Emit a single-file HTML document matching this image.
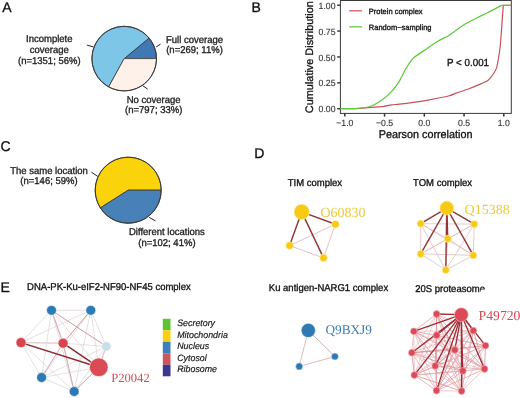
<!DOCTYPE html>
<html><head><meta charset="utf-8"><style>
html,body{margin:0;padding:0;background:#fff;width:520px;height:398px;overflow:hidden}
svg{display:block;filter:blur(0.35px)} text{text-rendering:geometricPrecision}
</style></head><body>
<svg width="520" height="398" viewBox="0 0 520 398">
<rect width="520" height="398" fill="#fff"/>
<text transform="translate(2.3,11.9) scale(1,1.0)" x="0" y="0" font-size="14" text-anchor="start" fill="#111" stroke="#111" stroke-width="0.32" font-family='"Liberation Sans", sans-serif' >A</text>
<text transform="translate(251.5,11.9) scale(1,1.0)" x="0" y="0" font-size="14" text-anchor="start" fill="#111" stroke="#111" stroke-width="0.32" font-family='"Liberation Sans", sans-serif' >B</text>
<text transform="translate(0.6,151) scale(1,1.0)" x="0" y="0" font-size="14" text-anchor="start" fill="#111" stroke="#111" stroke-width="0.32" font-family='"Liberation Sans", sans-serif' >C</text>
<text transform="translate(254.3,158.3) scale(1,1.0)" x="0" y="0" font-size="14" text-anchor="start" fill="#111" stroke="#111" stroke-width="0.32" font-family='"Liberation Sans", sans-serif' >D</text>
<text transform="translate(0.4,291.9) scale(1,1.0)" x="0" y="0" font-size="14" text-anchor="start" fill="#111" stroke="#111" stroke-width="0.32" font-family='"Liberation Sans", sans-serif' >E</text>
<path d="M124.20,58.60 L156.50,58.60 A32.3,32.3 0 0 0 149.09,38.01 Z" fill="#3f78b5" stroke="#333" stroke-width="0.8" stroke-linejoin="round"/>
<path d="M124.20,58.60 L149.09,38.01 A32.3,32.3 0 1 0 108.64,86.90 Z" fill="#7dc6e7" stroke="#333" stroke-width="0.8" stroke-linejoin="round"/>
<path d="M124.20,58.60 L108.64,86.90 A32.3,32.3 0 0 0 156.50,58.60 Z" fill="#fef1e9" stroke="#333" stroke-width="0.8" stroke-linejoin="round"/>
<circle cx="124.2" cy="58.6" r="32.3" fill="none" stroke="#383838" stroke-width="0.95"/>
<line x1="86.90" y1="45.10" x2="93.40" y2="46.90" stroke="#222" stroke-width="1" />
<line x1="156.20" y1="46.90" x2="160.50" y2="44.10" stroke="#222" stroke-width="1" />
<line x1="142.90" y1="85.80" x2="147.70" y2="89.10" stroke="#222" stroke-width="1" />
<text transform="translate(49.3,42.3) scale(1,1.04)" x="0" y="0" font-size="9.5" text-anchor="middle" fill="#222" stroke="#222" stroke-width="0.32" font-family='"Liberation Sans", sans-serif' >Incomplete</text>
<text transform="translate(49.3,53.2) scale(1,1.04)" x="0" y="0" font-size="9.5" text-anchor="middle" fill="#222" stroke="#222" stroke-width="0.32" font-family='"Liberation Sans", sans-serif' >coverage</text>
<text transform="translate(49.3,64.1) scale(1,1.04)" x="0" y="0" font-size="9.5" text-anchor="middle" fill="#222" stroke="#222" stroke-width="0.32" font-family='"Liberation Sans", sans-serif' >(n=1351; 56%)</text>
<text transform="translate(194.5,42.5) scale(1,1.04)" x="0" y="0" font-size="9.5" text-anchor="middle" fill="#222" stroke="#222" stroke-width="0.32" font-family='"Liberation Sans", sans-serif' >Full coverage</text>
<text transform="translate(194.5,53.1) scale(1,1.04)" x="0" y="0" font-size="9.5" text-anchor="middle" fill="#222" stroke="#222" stroke-width="0.32" font-family='"Liberation Sans", sans-serif' >(n=269; 11%)</text>
<text transform="translate(153.7,102.8) scale(1,1.04)" x="0" y="0" font-size="9.5" text-anchor="middle" fill="#222" stroke="#222" stroke-width="0.32" font-family='"Liberation Sans", sans-serif' >No coverage</text>
<text transform="translate(153.7,113.2) scale(1,1.04)" x="0" y="0" font-size="9.5" text-anchor="middle" fill="#222" stroke="#222" stroke-width="0.32" font-family='"Liberation Sans", sans-serif' >(n=797; 33%)</text>
<path d="M128.20,190.20 L161.20,190.20 A33.0,33.0 0 1 0 100.34,207.88 Z" fill="#fbd30a" stroke="#333" stroke-width="0.8" stroke-linejoin="round"/>
<path d="M128.20,190.20 L100.34,207.88 A33.0,33.0 0 0 0 161.20,190.20 Z" fill="#4880b8" stroke="#333" stroke-width="0.8" stroke-linejoin="round"/>
<circle cx="128.2" cy="190.2" r="33.0" fill="none" stroke="#383838" stroke-width="0.95"/>
<line x1="91.40" y1="172.20" x2="97.70" y2="176.40" stroke="#222" stroke-width="1" />
<line x1="149.20" y1="217.40" x2="155.50" y2="220.90" stroke="#222" stroke-width="1" />
<text transform="translate(49,174.3) scale(1,1.04)" x="0" y="0" font-size="9.5" text-anchor="middle" fill="#222" stroke="#222" stroke-width="0.32" font-family='"Liberation Sans", sans-serif' >The same location</text>
<text transform="translate(49,184.4) scale(1,1.04)" x="0" y="0" font-size="9.5" text-anchor="middle" fill="#222" stroke="#222" stroke-width="0.32" font-family='"Liberation Sans", sans-serif' >(n=146; 59%)</text>
<text transform="translate(166.9,234.6) scale(1,1.04)" x="0" y="0" font-size="9.5" text-anchor="middle" fill="#222" stroke="#222" stroke-width="0.32" font-family='"Liberation Sans", sans-serif' >Different locations</text>
<text transform="translate(166.9,245.5) scale(1,1.04)" x="0" y="0" font-size="9.5" text-anchor="middle" fill="#222" stroke="#222" stroke-width="0.32" font-family='"Liberation Sans", sans-serif' >(n=102; 41%)</text>
<rect x="340.4" y="0.5" width="170.90000000000003" height="112.9" fill="none" stroke="#3a3a3a" stroke-width="1"/>
<line x1="337.20" y1="108.70" x2="340.40" y2="108.70" stroke="#333" stroke-width="1.4" />
<text transform="translate(335.5,112.3) scale(1,1.04)" x="0" y="0" font-size="8.7" text-anchor="end" fill="#333" stroke="#333" stroke-width="0.12" font-family='"Liberation Sans", sans-serif' >0.00</text>
<line x1="337.20" y1="82.83" x2="340.40" y2="82.83" stroke="#333" stroke-width="1.4" />
<text transform="translate(335.5,86.425) scale(1,1.04)" x="0" y="0" font-size="8.7" text-anchor="end" fill="#333" stroke="#333" stroke-width="0.12" font-family='"Liberation Sans", sans-serif' >0.25</text>
<line x1="337.20" y1="56.95" x2="340.40" y2="56.95" stroke="#333" stroke-width="1.4" />
<text transform="translate(335.5,60.550000000000004) scale(1,1.04)" x="0" y="0" font-size="8.7" text-anchor="end" fill="#333" stroke="#333" stroke-width="0.12" font-family='"Liberation Sans", sans-serif' >0.50</text>
<line x1="337.20" y1="31.08" x2="340.40" y2="31.08" stroke="#333" stroke-width="1.4" />
<text transform="translate(335.5,34.675000000000004) scale(1,1.04)" x="0" y="0" font-size="8.7" text-anchor="end" fill="#333" stroke="#333" stroke-width="0.12" font-family='"Liberation Sans", sans-serif' >0.75</text>
<line x1="337.20" y1="5.20" x2="340.40" y2="5.20" stroke="#333" stroke-width="1.4" />
<text transform="translate(335.5,8.800000000000002) scale(1,1.04)" x="0" y="0" font-size="8.7" text-anchor="end" fill="#333" stroke="#333" stroke-width="0.12" font-family='"Liberation Sans", sans-serif' >1.00</text>
<line x1="344.80" y1="113.40" x2="344.80" y2="116.60" stroke="#333" stroke-width="1.5" />
<text transform="translate(344.8,125.6) scale(1,1.04)" x="0" y="0" font-size="8.7" text-anchor="middle" fill="#333" stroke="#333" stroke-width="0.12" font-family='"Liberation Sans", sans-serif' >−1.0</text>
<line x1="384.55" y1="113.40" x2="384.55" y2="116.60" stroke="#333" stroke-width="1.5" />
<text transform="translate(384.55,125.6) scale(1,1.04)" x="0" y="0" font-size="8.7" text-anchor="middle" fill="#333" stroke="#333" stroke-width="0.12" font-family='"Liberation Sans", sans-serif' >−0.5</text>
<line x1="424.30" y1="113.40" x2="424.30" y2="116.60" stroke="#333" stroke-width="1.5" />
<text transform="translate(424.3,125.6) scale(1,1.04)" x="0" y="0" font-size="8.7" text-anchor="middle" fill="#333" stroke="#333" stroke-width="0.12" font-family='"Liberation Sans", sans-serif' >0.0</text>
<line x1="464.05" y1="113.40" x2="464.05" y2="116.60" stroke="#333" stroke-width="1.5" />
<text transform="translate(464.05,125.6) scale(1,1.04)" x="0" y="0" font-size="8.7" text-anchor="middle" fill="#333" stroke="#333" stroke-width="0.12" font-family='"Liberation Sans", sans-serif' >0.5</text>
<line x1="503.80" y1="113.40" x2="503.80" y2="116.60" stroke="#333" stroke-width="1.5" />
<text transform="translate(503.8,125.6) scale(1,1.04)" x="0" y="0" font-size="8.7" text-anchor="middle" fill="#333" stroke="#333" stroke-width="0.12" font-family='"Liberation Sans", sans-serif' >1.0</text>
<text transform="translate(425.6,137.5) scale(1,1.04)" x="0" y="0" font-size="10.8" text-anchor="middle" fill="#111" stroke="#111" stroke-width="0.32" font-family='"Liberation Sans", sans-serif' >Pearson correlation</text>
<text transform="translate(312.9,57.15) rotate(-90)" x="0" y="0" font-size="10.9" stroke="#111" stroke-width="0.3" text-anchor="middle" fill="#111" font-family='"Liberation Sans", sans-serif'>Cumulative Distribution</text>
<line x1="349.20" y1="10.80" x2="362.10" y2="10.80" stroke="#cf5a5f" stroke-width="1.3" />
<line x1="349.20" y1="26.80" x2="362.10" y2="26.80" stroke="#66c94a" stroke-width="1.3" />
<text transform="translate(368.8,13.8) scale(1,1.04)" x="0" y="0" font-size="7.5" text-anchor="start" fill="#111" stroke="#111" stroke-width="0.32" font-family='"Liberation Sans", sans-serif' >Protein complex</text>
<text transform="translate(368.8,29.8) scale(1,1.04)" x="0" y="0" font-size="7.5" text-anchor="start" fill="#111" stroke="#111" stroke-width="0.32" font-family='"Liberation Sans", sans-serif' >Random−sampling</text>
<text transform="translate(447,66.2) scale(1,1.04)" x="0" y="0" font-size="9.8" text-anchor="start" fill="#111" stroke="#111" stroke-width="0.32" font-family='"Liberation Sans", sans-serif' >P &lt; 0.001</text>
<path d="M340.50,108.60 C342.31,108.60 351.55,108.71 355.00,108.60 C358.45,108.49 364.50,107.97 368.10,107.70 C371.70,107.43 380.86,106.76 383.80,106.40 C386.74,106.04 389.65,105.08 391.60,104.80 C393.55,104.52 396.47,104.54 399.40,104.20 C402.32,103.86 411.27,102.65 415.00,102.10 C418.73,101.55 425.01,100.56 429.20,99.80 C433.39,99.04 445.12,96.84 448.50,96.00 C451.88,95.16 453.80,93.95 456.20,93.10 C458.60,92.25 465.06,90.16 467.70,89.20 C470.34,88.24 474.78,86.48 477.30,85.40 C479.82,84.33 485.97,81.92 487.90,80.60 C489.82,79.27 491.62,76.36 492.70,74.80 C493.77,73.24 495.74,70.39 496.50,68.10 C497.26,65.81 498.31,59.39 498.80,56.50 C498.80,56.50 500.40,45.00 500.40,45.00 C500.40,45.00 503.30,5.40 503.30,5.40 C503.30,5.40 511.00,5.30 511.00,5.30" fill="none" stroke="#c4525a" stroke-width="1.2" stroke-linejoin="round"/>
<path d="M340.50,108.60 C342.31,108.60 351.31,108.86 355.00,108.60 C358.69,108.34 367.00,107.33 370.00,106.50 C373.00,105.67 376.55,103.60 379.00,102.00 C381.45,100.40 387.15,96.15 389.60,93.70 C392.05,91.25 396.54,85.58 398.60,82.40 C400.66,79.23 404.21,71.38 406.10,68.30 C407.99,65.22 411.15,60.21 413.70,57.80 C416.25,55.39 423.45,51.10 426.50,49.00 C429.55,46.90 435.36,42.65 438.10,41.00 C440.84,39.35 446.10,37.17 448.40,35.80 C450.70,34.42 454.19,31.59 456.50,30.00 C458.81,28.41 464.42,24.58 466.90,23.10 C469.38,21.62 474.18,19.29 476.30,18.20 C478.43,17.11 481.85,15.41 483.90,14.40 C485.95,13.39 490.50,11.22 492.70,10.10 C492.70,10.10 501.50,5.40 501.50,5.40 C501.50,5.40 511.00,5.30 511.00,5.30" fill="none" stroke="#5cc83a" stroke-width="1.2" stroke-linejoin="round"/>
<text transform="translate(287.7,186.3) scale(1,1.04)" x="0" y="0" font-size="9.5" text-anchor="start" fill="#111" stroke="#111" stroke-width="0.32" font-family='"Liberation Sans", sans-serif' >TIM complex</text>
<text transform="translate(413.1,185.9) scale(1,1.04)" x="0" y="0" font-size="9.5" text-anchor="start" fill="#111" stroke="#111" stroke-width="0.32" font-family='"Liberation Sans", sans-serif' >TOM complex</text>
<text transform="translate(27.1,290.3) scale(1,1.04)" x="0" y="0" font-size="9.5" text-anchor="start" fill="#111" stroke="#111" stroke-width="0.32" font-family='"Liberation Sans", sans-serif' >DNA-PK-Ku-eIF2-NF90-NF45 complex</text>
<text transform="translate(268.8,291.4) scale(1,1.04)" x="0" y="0" font-size="9.5" text-anchor="start" fill="#111" stroke="#111" stroke-width="0.32" font-family='"Liberation Sans", sans-serif' >Ku antigen-NARG1 complex</text>
<text transform="translate(415.2,292) scale(1,1.04)" x="0" y="0" font-size="9.5" text-anchor="start" fill="#111" stroke="#111" stroke-width="0.32" font-family='"Liberation Sans", sans-serif' >20S proteasome</text>
<rect x="480.8" y="289.7" width="8" height="4" fill="#fff"/>
<line x1="335.40" y1="224.20" x2="289.60" y2="245.60" stroke="#dfbcc0" stroke-width="0.9" />
<line x1="335.40" y1="224.20" x2="323.50" y2="257.90" stroke="#dfbcc0" stroke-width="0.9" />
<line x1="289.60" y1="245.60" x2="323.50" y2="257.90" stroke="#dfbcc0" stroke-width="0.9" />
<line x1="301.70" y1="211.90" x2="335.40" y2="224.20" stroke="#923535" stroke-width="1.45" />
<line x1="301.70" y1="211.90" x2="289.60" y2="245.60" stroke="#923535" stroke-width="1.45" />
<line x1="301.70" y1="211.90" x2="323.50" y2="257.90" stroke="#923535" stroke-width="1.45" />
<circle cx="301.70" cy="211.90" r="7.7" fill="#f7ca16" stroke="#fff3b0" stroke-width="0.6"/>
<circle cx="335.40" cy="224.20" r="3.8" fill="#f7ca16" stroke="#fff3b0" stroke-width="0.6"/>
<circle cx="289.60" cy="245.60" r="3.8" fill="#f7ca16" stroke="#fff3b0" stroke-width="0.6"/>
<circle cx="323.50" cy="257.90" r="3.8" fill="#f7ca16" stroke="#fff3b0" stroke-width="0.6"/>
<text transform="translate(320.4,217) scale(1,1.0)" x="0" y="0" font-size="14" text-anchor="start" fill="#eacb40" stroke="#eacb40" stroke-width="0" font-family='"Liberation Serif", serif' >O60830</text>
<line x1="420.70" y1="223.70" x2="474.30" y2="224.10" stroke="#dfbcc0" stroke-width="0.8" />
<line x1="420.70" y1="223.70" x2="447.80" y2="238.80" stroke="#dfbcc0" stroke-width="0.8" />
<line x1="420.70" y1="223.70" x2="420.70" y2="253.90" stroke="#dfbcc0" stroke-width="0.8" />
<line x1="420.70" y1="223.70" x2="473.30" y2="255.30" stroke="#dfbcc0" stroke-width="0.8" />
<line x1="420.70" y1="223.70" x2="445.80" y2="270.00" stroke="#dfbcc0" stroke-width="0.8" />
<line x1="474.30" y1="224.10" x2="447.80" y2="238.80" stroke="#dfbcc0" stroke-width="0.8" />
<line x1="474.30" y1="224.10" x2="420.70" y2="253.90" stroke="#dfbcc0" stroke-width="0.8" />
<line x1="474.30" y1="224.10" x2="473.30" y2="255.30" stroke="#dfbcc0" stroke-width="0.8" />
<line x1="474.30" y1="224.10" x2="445.80" y2="270.00" stroke="#dfbcc0" stroke-width="0.8" />
<line x1="447.80" y1="238.80" x2="420.70" y2="253.90" stroke="#dfbcc0" stroke-width="0.8" />
<line x1="447.80" y1="238.80" x2="473.30" y2="255.30" stroke="#dfbcc0" stroke-width="0.8" />
<line x1="447.80" y1="238.80" x2="445.80" y2="270.00" stroke="#dfbcc0" stroke-width="0.8" />
<line x1="420.70" y1="253.90" x2="473.30" y2="255.30" stroke="#dfbcc0" stroke-width="0.8" />
<line x1="420.70" y1="253.90" x2="445.80" y2="270.00" stroke="#dfbcc0" stroke-width="0.8" />
<line x1="473.30" y1="255.30" x2="445.80" y2="270.00" stroke="#dfbcc0" stroke-width="0.8" />
<line x1="446.80" y1="208.10" x2="420.70" y2="223.70" stroke="#923535" stroke-width="1.4" />
<line x1="446.80" y1="208.10" x2="474.30" y2="224.10" stroke="#923535" stroke-width="1.4" />
<line x1="446.80" y1="208.10" x2="447.80" y2="238.80" stroke="#923535" stroke-width="1.4" />
<line x1="446.80" y1="208.10" x2="420.70" y2="253.90" stroke="#923535" stroke-width="1.4" />
<line x1="446.80" y1="208.10" x2="473.30" y2="255.30" stroke="#923535" stroke-width="1.4" />
<line x1="446.80" y1="208.10" x2="445.80" y2="270.00" stroke="#923535" stroke-width="1.4" />
<circle cx="446.80" cy="208.10" r="7" fill="#f7ca16" stroke="#fff3b0" stroke-width="0.6"/>
<circle cx="420.70" cy="223.70" r="3.6" fill="#f7ca16" stroke="#fff3b0" stroke-width="0.6"/>
<circle cx="474.30" cy="224.10" r="3.6" fill="#f7ca16" stroke="#fff3b0" stroke-width="0.6"/>
<circle cx="447.80" cy="238.80" r="3.6" fill="#f7ca16" stroke="#fff3b0" stroke-width="0.6"/>
<circle cx="420.70" cy="253.90" r="3.6" fill="#f7ca16" stroke="#fff3b0" stroke-width="0.6"/>
<circle cx="473.30" cy="255.30" r="3.6" fill="#f7ca16" stroke="#fff3b0" stroke-width="0.6"/>
<circle cx="445.80" cy="270.00" r="3.6" fill="#f7ca16" stroke="#fff3b0" stroke-width="0.6"/>
<text transform="translate(464.6,213.5) scale(1,1.0)" x="0" y="0" font-size="14" text-anchor="start" fill="#eacb40" stroke="#eacb40" stroke-width="0" font-family='"Liberation Serif", serif' >Q15388</text>
<line x1="51.50" y1="310.30" x2="90.80" y2="310.30" stroke="#e2dcdf" stroke-width="0.9" />
<line x1="51.50" y1="310.30" x2="21.00" y2="342.60" stroke="#e2dcdf" stroke-width="0.9" />
<line x1="51.50" y1="310.30" x2="63.10" y2="343.20" stroke="#e2dcdf" stroke-width="0.9" />
<line x1="51.50" y1="310.30" x2="106.30" y2="346.40" stroke="#e2dcdf" stroke-width="0.9" />
<line x1="51.50" y1="310.30" x2="98.80" y2="367.30" stroke="#e2dcdf" stroke-width="0.9" />
<line x1="51.50" y1="310.30" x2="41.60" y2="377.50" stroke="#e2dcdf" stroke-width="0.9" />
<line x1="51.50" y1="310.30" x2="74.20" y2="391.50" stroke="#e2dcdf" stroke-width="0.9" />
<line x1="90.80" y1="310.30" x2="21.00" y2="342.60" stroke="#e2dcdf" stroke-width="0.9" />
<line x1="90.80" y1="310.30" x2="63.10" y2="343.20" stroke="#e2dcdf" stroke-width="0.9" />
<line x1="90.80" y1="310.30" x2="106.30" y2="346.40" stroke="#e2dcdf" stroke-width="0.9" />
<line x1="90.80" y1="310.30" x2="98.80" y2="367.30" stroke="#e2dcdf" stroke-width="0.9" />
<line x1="90.80" y1="310.30" x2="41.60" y2="377.50" stroke="#e2dcdf" stroke-width="0.9" />
<line x1="90.80" y1="310.30" x2="74.20" y2="391.50" stroke="#e2dcdf" stroke-width="0.9" />
<line x1="21.00" y1="342.60" x2="63.10" y2="343.20" stroke="#e2dcdf" stroke-width="0.9" />
<line x1="21.00" y1="342.60" x2="98.80" y2="367.30" stroke="#e2dcdf" stroke-width="0.9" />
<line x1="21.00" y1="342.60" x2="41.60" y2="377.50" stroke="#e2dcdf" stroke-width="0.9" />
<line x1="21.00" y1="342.60" x2="74.20" y2="391.50" stroke="#e2dcdf" stroke-width="0.9" />
<line x1="63.10" y1="343.20" x2="106.30" y2="346.40" stroke="#e2dcdf" stroke-width="0.9" />
<line x1="63.10" y1="343.20" x2="98.80" y2="367.30" stroke="#e2dcdf" stroke-width="0.9" />
<line x1="63.10" y1="343.20" x2="41.60" y2="377.50" stroke="#e2dcdf" stroke-width="0.9" />
<line x1="63.10" y1="343.20" x2="74.20" y2="391.50" stroke="#e2dcdf" stroke-width="0.9" />
<line x1="106.30" y1="346.40" x2="98.80" y2="367.30" stroke="#e2dcdf" stroke-width="0.9" />
<line x1="106.30" y1="346.40" x2="41.60" y2="377.50" stroke="#e2dcdf" stroke-width="0.9" />
<line x1="106.30" y1="346.40" x2="74.20" y2="391.50" stroke="#e2dcdf" stroke-width="0.9" />
<line x1="98.80" y1="367.30" x2="41.60" y2="377.50" stroke="#e2dcdf" stroke-width="0.9" />
<line x1="98.80" y1="367.30" x2="74.20" y2="391.50" stroke="#e2dcdf" stroke-width="0.9" />
<line x1="41.60" y1="377.50" x2="74.20" y2="391.50" stroke="#e2dcdf" stroke-width="0.9" />
<line x1="51.50" y1="310.30" x2="106.30" y2="346.40" stroke="#d5a5aa" stroke-width="1" />
<line x1="90.80" y1="310.30" x2="63.10" y2="343.20" stroke="#d9a0a5" stroke-width="1" />
<line x1="51.50" y1="310.30" x2="63.10" y2="343.20" stroke="#dba8ac" stroke-width="1" />
<line x1="63.10" y1="343.20" x2="74.20" y2="391.50" stroke="#dba8ac" stroke-width="1" />
<line x1="41.60" y1="377.50" x2="63.10" y2="343.20" stroke="#e0b0b4" stroke-width="1" />
<line x1="74.20" y1="391.50" x2="98.80" y2="367.30" stroke="#d9a0a5" stroke-width="1" />
<line x1="21.00" y1="342.60" x2="63.10" y2="343.20" stroke="#ebc6c8" stroke-width="1" />
<line x1="106.30" y1="346.40" x2="98.80" y2="367.30" stroke="#e5b8bb" stroke-width="1" />
<line x1="21.00" y1="342.60" x2="98.80" y2="367.30" stroke="#8b2a30" stroke-width="1.45" />
<line x1="63.10" y1="343.20" x2="98.80" y2="367.30" stroke="#8b2a30" stroke-width="1.45" />
<circle cx="51.50" cy="310.30" r="4.9" fill="#2c7bb6" stroke="#ffffff" stroke-width="0.5"/>
<circle cx="90.80" cy="310.30" r="4.9" fill="#2c7bb6" stroke="#ffffff" stroke-width="0.5"/>
<circle cx="21.00" cy="342.60" r="5" fill="#d7444f" stroke="#ffffff" stroke-width="0.5"/>
<circle cx="63.10" cy="343.20" r="5" fill="#d7444f" stroke="#ffffff" stroke-width="0.5"/>
<circle cx="106.30" cy="346.40" r="4.7" fill="#c9dfeb" stroke="#ffffff" stroke-width="0.5"/>
<circle cx="98.80" cy="367.30" r="9.3" fill="#db4b56" stroke="#ffffff" stroke-width="0.5"/>
<circle cx="41.60" cy="377.50" r="4.9" fill="#2c7bb6" stroke="#ffffff" stroke-width="0.5"/>
<circle cx="74.20" cy="391.50" r="4.9" fill="#2c7bb6" stroke="#ffffff" stroke-width="0.5"/>
<text transform="translate(111.2,382.3) scale(1,1.0)" x="0" y="0" font-size="12.6" text-anchor="start" fill="#d04a55" stroke="#d04a55" stroke-width="0" font-family='"Liberation Serif", serif' >P20042</text>
<rect x="162.8" y="318.80" width="7.7" height="11.5" fill="#5cc433"/>
<text transform="translate(177.2,326.0) scale(1,1.04)" x="0" y="0" font-size="8.85" text-anchor="start" fill="#111" stroke="#111" stroke-width="0.15" font-family='"Liberation Sans", sans-serif' font-style="italic" >Secretory</text>
<rect x="162.8" y="330.30" width="7.7" height="11.5" fill="#f8d10e"/>
<text transform="translate(177.2,337.5) scale(1,1.04)" x="0" y="0" font-size="8.85" text-anchor="start" fill="#111" stroke="#111" stroke-width="0.15" font-family='"Liberation Sans", sans-serif' font-style="italic" >Mitochondria</text>
<rect x="162.8" y="341.80" width="7.7" height="11.5" fill="#3c80b9"/>
<text transform="translate(177.2,349.0) scale(1,1.04)" x="0" y="0" font-size="8.85" text-anchor="start" fill="#111" stroke="#111" stroke-width="0.15" font-family='"Liberation Sans", sans-serif' font-style="italic" >Nucleus</text>
<rect x="162.8" y="353.30" width="7.7" height="11.5" fill="#d0545c"/>
<text transform="translate(177.2,360.5) scale(1,1.04)" x="0" y="0" font-size="8.85" text-anchor="start" fill="#111" stroke="#111" stroke-width="0.15" font-family='"Liberation Sans", sans-serif' font-style="italic" >Cytosol</text>
<rect x="162.8" y="364.80" width="7.7" height="11.5" fill="#3a3891"/>
<text transform="translate(177.2,372.0) scale(1,1.04)" x="0" y="0" font-size="8.85" text-anchor="start" fill="#111" stroke="#111" stroke-width="0.15" font-family='"Liberation Sans", sans-serif' font-style="italic" >Ribosome</text>
<line x1="308.30" y1="330.40" x2="334.90" y2="356.50" stroke="#cdb7b7" stroke-width="1" />
<line x1="308.30" y1="330.40" x2="299.20" y2="366.40" stroke="#d8c0c0" stroke-width="1" />
<line x1="334.90" y1="356.50" x2="299.20" y2="366.40" stroke="#e8b9bb" stroke-width="1" />
<circle cx="308.30" cy="330.40" r="7.1" fill="#2f7ab5" stroke="#ffffff" stroke-width="0.5"/>
<circle cx="334.90" cy="356.50" r="3.6" fill="#2f7ab5" stroke="#ffffff" stroke-width="0.5"/>
<circle cx="299.20" cy="366.40" r="3.6" fill="#2f7ab5" stroke="#ffffff" stroke-width="0.5"/>
<text transform="translate(325.4,334.2) scale(1,1.0)" x="0" y="0" font-size="13.3" text-anchor="start" fill="#3b7db5" stroke="#3b7db5" stroke-width="0" font-family='"Liberation Serif", serif' >Q9BXJ9</text>
<line x1="436.60" y1="314.00" x2="413.80" y2="331.30" stroke="#dd959c" stroke-width="0.7" />
<line x1="436.60" y1="314.00" x2="436.60" y2="335.20" stroke="#e4a5ab" stroke-width="0.7" />
<line x1="436.60" y1="314.00" x2="473.40" y2="330.60" stroke="#e8b0b5" stroke-width="0.7" />
<line x1="436.60" y1="314.00" x2="485.50" y2="345.60" stroke="#eab8bd" stroke-width="0.7" />
<line x1="436.60" y1="314.00" x2="411.80" y2="352.70" stroke="#eab8bd" stroke-width="0.7" />
<line x1="436.60" y1="314.00" x2="454.80" y2="349.90" stroke="#d4848c" stroke-width="0.7" />
<line x1="436.60" y1="314.00" x2="435.20" y2="365.90" stroke="#eab8bd" stroke-width="0.7" />
<line x1="436.60" y1="314.00" x2="462.80" y2="370.90" stroke="#dd959c" stroke-width="0.7" />
<line x1="436.60" y1="314.00" x2="484.50" y2="369.00" stroke="#d4848c" stroke-width="0.7" />
<line x1="436.60" y1="314.00" x2="414.30" y2="375.10" stroke="#eab8bd" stroke-width="0.7" />
<line x1="436.60" y1="314.00" x2="436.50" y2="390.60" stroke="#d4848c" stroke-width="0.7" />
<line x1="436.60" y1="314.00" x2="461.60" y2="391.10" stroke="#e4a5ab" stroke-width="0.7" />
<line x1="413.80" y1="331.30" x2="436.60" y2="335.20" stroke="#eab8bd" stroke-width="0.7" />
<line x1="413.80" y1="331.30" x2="473.40" y2="330.60" stroke="#eab8bd" stroke-width="0.7" />
<line x1="413.80" y1="331.30" x2="485.50" y2="345.60" stroke="#e8b0b5" stroke-width="0.7" />
<line x1="413.80" y1="331.30" x2="411.80" y2="352.70" stroke="#e8b0b5" stroke-width="0.7" />
<line x1="413.80" y1="331.30" x2="454.80" y2="349.90" stroke="#eab8bd" stroke-width="0.7" />
<line x1="413.80" y1="331.30" x2="435.20" y2="365.90" stroke="#e4a5ab" stroke-width="0.7" />
<line x1="413.80" y1="331.30" x2="462.80" y2="370.90" stroke="#eab8bd" stroke-width="0.7" />
<line x1="413.80" y1="331.30" x2="484.50" y2="369.00" stroke="#d4848c" stroke-width="0.7" />
<line x1="413.80" y1="331.30" x2="414.30" y2="375.10" stroke="#e8b0b5" stroke-width="0.7" />
<line x1="413.80" y1="331.30" x2="436.50" y2="390.60" stroke="#eab8bd" stroke-width="0.7" />
<line x1="413.80" y1="331.30" x2="461.60" y2="391.10" stroke="#d4848c" stroke-width="0.7" />
<line x1="436.60" y1="335.20" x2="473.40" y2="330.60" stroke="#eab8bd" stroke-width="0.7" />
<line x1="436.60" y1="335.20" x2="485.50" y2="345.60" stroke="#e4a5ab" stroke-width="0.7" />
<line x1="436.60" y1="335.20" x2="411.80" y2="352.70" stroke="#d4848c" stroke-width="0.7" />
<line x1="436.60" y1="335.20" x2="454.80" y2="349.90" stroke="#eab8bd" stroke-width="0.7" />
<line x1="436.60" y1="335.20" x2="435.20" y2="365.90" stroke="#d4848c" stroke-width="0.7" />
<line x1="436.60" y1="335.20" x2="462.80" y2="370.90" stroke="#d4848c" stroke-width="0.7" />
<line x1="436.60" y1="335.20" x2="484.50" y2="369.00" stroke="#e8b0b5" stroke-width="0.7" />
<line x1="436.60" y1="335.20" x2="414.30" y2="375.10" stroke="#eab8bd" stroke-width="0.7" />
<line x1="436.60" y1="335.20" x2="436.50" y2="390.60" stroke="#e4a5ab" stroke-width="0.7" />
<line x1="436.60" y1="335.20" x2="461.60" y2="391.10" stroke="#eab8bd" stroke-width="0.7" />
<line x1="473.40" y1="330.60" x2="485.50" y2="345.60" stroke="#d4848c" stroke-width="0.7" />
<line x1="473.40" y1="330.60" x2="411.80" y2="352.70" stroke="#e4a5ab" stroke-width="0.7" />
<line x1="473.40" y1="330.60" x2="454.80" y2="349.90" stroke="#dd959c" stroke-width="0.7" />
<line x1="473.40" y1="330.60" x2="435.20" y2="365.90" stroke="#e8b0b5" stroke-width="0.7" />
<line x1="473.40" y1="330.60" x2="462.80" y2="370.90" stroke="#e4a5ab" stroke-width="0.7" />
<line x1="473.40" y1="330.60" x2="484.50" y2="369.00" stroke="#d4848c" stroke-width="0.7" />
<line x1="473.40" y1="330.60" x2="414.30" y2="375.10" stroke="#eab8bd" stroke-width="0.7" />
<line x1="473.40" y1="330.60" x2="436.50" y2="390.60" stroke="#d4848c" stroke-width="0.7" />
<line x1="473.40" y1="330.60" x2="461.60" y2="391.10" stroke="#dd959c" stroke-width="0.7" />
<line x1="485.50" y1="345.60" x2="411.80" y2="352.70" stroke="#d4848c" stroke-width="0.7" />
<line x1="485.50" y1="345.60" x2="454.80" y2="349.90" stroke="#e4a5ab" stroke-width="0.7" />
<line x1="485.50" y1="345.60" x2="435.20" y2="365.90" stroke="#eab8bd" stroke-width="0.7" />
<line x1="485.50" y1="345.60" x2="462.80" y2="370.90" stroke="#d4848c" stroke-width="0.7" />
<line x1="485.50" y1="345.60" x2="484.50" y2="369.00" stroke="#d4848c" stroke-width="0.7" />
<line x1="485.50" y1="345.60" x2="414.30" y2="375.10" stroke="#e4a5ab" stroke-width="0.7" />
<line x1="485.50" y1="345.60" x2="436.50" y2="390.60" stroke="#dd959c" stroke-width="0.7" />
<line x1="485.50" y1="345.60" x2="461.60" y2="391.10" stroke="#eab8bd" stroke-width="0.7" />
<line x1="411.80" y1="352.70" x2="454.80" y2="349.90" stroke="#d4848c" stroke-width="0.7" />
<line x1="411.80" y1="352.70" x2="435.20" y2="365.90" stroke="#eab8bd" stroke-width="0.7" />
<line x1="411.80" y1="352.70" x2="462.80" y2="370.90" stroke="#d4848c" stroke-width="0.7" />
<line x1="411.80" y1="352.70" x2="484.50" y2="369.00" stroke="#eab8bd" stroke-width="0.7" />
<line x1="411.80" y1="352.70" x2="414.30" y2="375.10" stroke="#d4848c" stroke-width="0.7" />
<line x1="411.80" y1="352.70" x2="436.50" y2="390.60" stroke="#e4a5ab" stroke-width="0.7" />
<line x1="411.80" y1="352.70" x2="461.60" y2="391.10" stroke="#e8b0b5" stroke-width="0.7" />
<line x1="454.80" y1="349.90" x2="435.20" y2="365.90" stroke="#d4848c" stroke-width="0.7" />
<line x1="454.80" y1="349.90" x2="462.80" y2="370.90" stroke="#e8b0b5" stroke-width="0.7" />
<line x1="454.80" y1="349.90" x2="484.50" y2="369.00" stroke="#dd959c" stroke-width="0.7" />
<line x1="454.80" y1="349.90" x2="414.30" y2="375.10" stroke="#e8b0b5" stroke-width="0.7" />
<line x1="454.80" y1="349.90" x2="436.50" y2="390.60" stroke="#d4848c" stroke-width="0.7" />
<line x1="454.80" y1="349.90" x2="461.60" y2="391.10" stroke="#e8b0b5" stroke-width="0.7" />
<line x1="435.20" y1="365.90" x2="462.80" y2="370.90" stroke="#dd959c" stroke-width="0.7" />
<line x1="435.20" y1="365.90" x2="484.50" y2="369.00" stroke="#dd959c" stroke-width="0.7" />
<line x1="435.20" y1="365.90" x2="414.30" y2="375.10" stroke="#e4a5ab" stroke-width="0.7" />
<line x1="435.20" y1="365.90" x2="436.50" y2="390.60" stroke="#e4a5ab" stroke-width="0.7" />
<line x1="435.20" y1="365.90" x2="461.60" y2="391.10" stroke="#e4a5ab" stroke-width="0.7" />
<line x1="462.80" y1="370.90" x2="484.50" y2="369.00" stroke="#eab8bd" stroke-width="0.7" />
<line x1="462.80" y1="370.90" x2="414.30" y2="375.10" stroke="#d4848c" stroke-width="0.7" />
<line x1="462.80" y1="370.90" x2="436.50" y2="390.60" stroke="#dd959c" stroke-width="0.7" />
<line x1="462.80" y1="370.90" x2="461.60" y2="391.10" stroke="#d4848c" stroke-width="0.7" />
<line x1="484.50" y1="369.00" x2="414.30" y2="375.10" stroke="#e8b0b5" stroke-width="0.7" />
<line x1="484.50" y1="369.00" x2="436.50" y2="390.60" stroke="#dd959c" stroke-width="0.7" />
<line x1="484.50" y1="369.00" x2="461.60" y2="391.10" stroke="#e8b0b5" stroke-width="0.7" />
<line x1="414.30" y1="375.10" x2="436.50" y2="390.60" stroke="#dd959c" stroke-width="0.7" />
<line x1="414.30" y1="375.10" x2="461.60" y2="391.10" stroke="#d4848c" stroke-width="0.7" />
<line x1="436.50" y1="390.60" x2="461.60" y2="391.10" stroke="#eab8bd" stroke-width="0.7" />
<line x1="461.30" y1="314.70" x2="436.60" y2="314.00" stroke="#9b2f38" stroke-width="1.3" />
<line x1="461.30" y1="314.70" x2="413.80" y2="331.30" stroke="#9b2f38" stroke-width="1.3" />
<line x1="461.30" y1="314.70" x2="436.60" y2="335.20" stroke="#9b2f38" stroke-width="1.3" />
<line x1="461.30" y1="314.70" x2="473.40" y2="330.60" stroke="#9b2f38" stroke-width="1.3" />
<line x1="461.30" y1="314.70" x2="485.50" y2="345.60" stroke="#9b2f38" stroke-width="1.3" />
<line x1="461.30" y1="314.70" x2="411.80" y2="352.70" stroke="#9b2f38" stroke-width="1.3" />
<line x1="461.30" y1="314.70" x2="454.80" y2="349.90" stroke="#9b2f38" stroke-width="1.3" />
<line x1="461.30" y1="314.70" x2="435.20" y2="365.90" stroke="#9b2f38" stroke-width="1.3" />
<line x1="461.30" y1="314.70" x2="462.80" y2="370.90" stroke="#9b2f38" stroke-width="1.3" />
<line x1="461.30" y1="314.70" x2="484.50" y2="369.00" stroke="#9b2f38" stroke-width="1.3" />
<line x1="461.30" y1="314.70" x2="414.30" y2="375.10" stroke="#9b2f38" stroke-width="1.3" />
<line x1="461.30" y1="314.70" x2="436.50" y2="390.60" stroke="#9b2f38" stroke-width="1.3" />
<line x1="461.30" y1="314.70" x2="461.60" y2="391.10" stroke="#9b2f38" stroke-width="1.3" />
<circle cx="461.30" cy="314.70" r="6.9" fill="#dc4a57" stroke="#f4b8bd" stroke-width="0.6"/>
<circle cx="436.60" cy="314.00" r="3.4" fill="#dc4a57" stroke="#f4b8bd" stroke-width="0.6"/>
<circle cx="413.80" cy="331.30" r="3.4" fill="#dc4a57" stroke="#f4b8bd" stroke-width="0.6"/>
<circle cx="436.60" cy="335.20" r="3.4" fill="#dc4a57" stroke="#f4b8bd" stroke-width="0.6"/>
<circle cx="473.40" cy="330.60" r="3.4" fill="#dc4a57" stroke="#f4b8bd" stroke-width="0.6"/>
<circle cx="485.50" cy="345.60" r="3.4" fill="#dc4a57" stroke="#f4b8bd" stroke-width="0.6"/>
<circle cx="411.80" cy="352.70" r="3.4" fill="#dc4a57" stroke="#f4b8bd" stroke-width="0.6"/>
<circle cx="454.80" cy="349.90" r="3.4" fill="#dc4a57" stroke="#f4b8bd" stroke-width="0.6"/>
<circle cx="435.20" cy="365.90" r="3.4" fill="#dc4a57" stroke="#f4b8bd" stroke-width="0.6"/>
<circle cx="462.80" cy="370.90" r="3.4" fill="#dc4a57" stroke="#f4b8bd" stroke-width="0.6"/>
<circle cx="484.50" cy="369.00" r="3.4" fill="#dc4a57" stroke="#f4b8bd" stroke-width="0.6"/>
<circle cx="414.30" cy="375.10" r="3.4" fill="#dc4a57" stroke="#f4b8bd" stroke-width="0.6"/>
<circle cx="436.50" cy="390.60" r="3.4" fill="#dc4a57" stroke="#f4b8bd" stroke-width="0.6"/>
<circle cx="461.60" cy="391.10" r="3.4" fill="#dc4a57" stroke="#f4b8bd" stroke-width="0.6"/>
<text transform="translate(478.6,320) scale(1,1.0)" x="0" y="0" font-size="13.7" text-anchor="start" fill="#d04a57" stroke="#d04a57" stroke-width="0" font-family='"Liberation Serif", serif' >P49720</text>
</svg></body></html>
